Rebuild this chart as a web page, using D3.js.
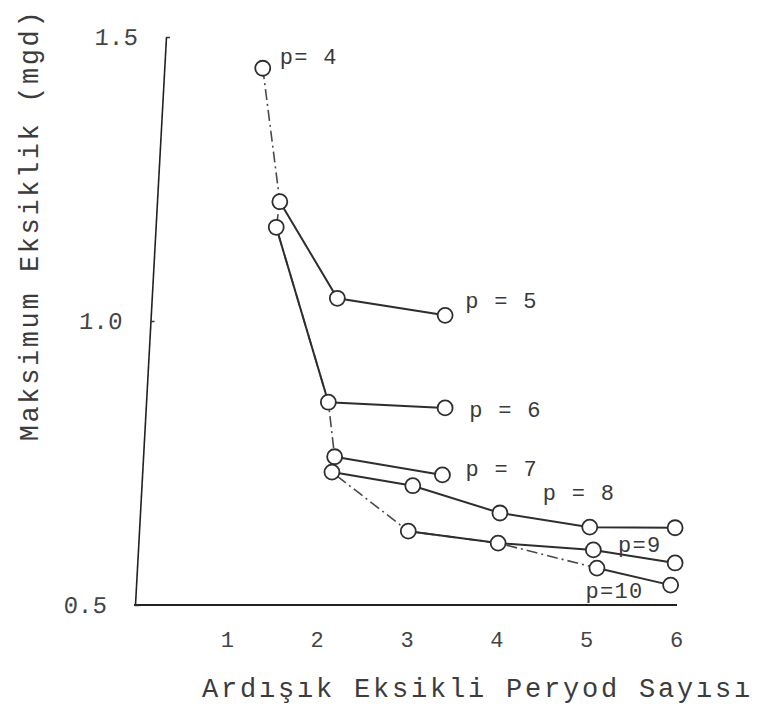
<!DOCTYPE html>
<html>
<head>
<meta charset="utf-8">
<script src="https://cdn.jsdelivr.net/npm/d3@7"></script>
<style>
  html, body { margin: 0; padding: 0; background: #ffffff; }
  svg { display: block; }
  text { font-family: "Liberation Mono", "DejaVu Sans Mono", monospace; }
</style>
</head>
<body>
<svg id="chart" width="763" height="715"></svg>
<script>
// ---- data ----
const xTicks = [1, 2, 3, 4, 5, 6];
const yTicks = [0.5, 1.0, 1.5];
const xTitle = "Ardışık Eksikli Peryod Sayısı";
const yTitle = "Maksimum Eksiklik (mgd)";

const seriesNames = ["p= 4", "p = 5", "p = 6", "p = 7", "p = 8", "p=9", "p=10"];
const p4x = [1.40];               const p4y = [1.445];
const p5x = [1.59, 2.23, 3.43];   const p5y = [1.21, 1.04, 1.01];
const p6x = [1.55, 2.13, 3.43];   const p6y = [1.165, 0.857, 0.847];
const p7x = [2.20, 3.40];         const p7y = [0.761, 0.729];
const p8x = [2.17, 3.07, 4.04, 5.04, 5.99]; const p8y = [0.734, 0.710, 0.662, 0.637, 0.636];
const p9x = [3.02, 4.02, 5.08, 5.99];       const p9y = [0.630, 0.609, 0.597, 0.574];
const p10x = [5.12, 5.94];                  const p10y = [0.565, 0.535];

// dash-dot envelope through the first points of the curves
const envX = [1.40, 1.59, 1.55, 2.13, 2.20, 2.17, 3.02, 4.02, 5.12];
const envY = [1.445, 1.21, 1.165, 0.857, 0.761, 0.734, 0.630, 0.609, 0.565];

// ---- layout ----
const X0 = 137, X1 = 676, Y0 = 605, Y1 = 37;
const labelLayout = [ // anchor point index, offsets in px
  {i: 0, dx: 17, dy: -4},
  {i: 2, dx: 20, dy: -7},
  {i: 2, dx: 24, dy: 9},
  {i: 1, dx: 23, dy: 1},
  {i: 3, dx: -47, dy: -27},
  {i: 3, dx: -57, dy: -11},
  {i: 1, dx: -85, dy: 13}
];

const svg = d3.select("#chart");
const x = d3.scaleLinear().domain([0, 6]).range([X0, X1]);
const y = d3.scaleLinear().domain([0.5, 1.5]).range([Y0, Y1]);

const ink = "#2e2e2e";

// x axis
const gx = svg.append("g").attr("transform", `translate(0,${Y0})`)
  .call(d3.axisBottom(x).tickValues(xTicks).tickFormat(d3.format("d")).tickSize(0).tickPadding(26));
gx.select(".domain").attr("stroke", "#222").attr("stroke-width", 2.2).attr("d", `M${X0 - 3},0H${X1 + 1}`);
gx.selectAll(".tick text").attr("font-size", 22).attr("fill", "#444")
  .attr("font-family", "Liberation Mono, monospace");

// y axis (slightly leaning, as drawn by hand)
const yRel = d3.scaleLinear().domain([0.5, 1.5]).range([0, Y1 - Y0]);
const lean = -Math.atan(31 / (Y0 - Y1)) * 180 / Math.PI;
const gy = svg.append("g").attr("transform", `translate(${X0 - 2},${Y0}) skewX(${lean})`)
  .call(d3.axisLeft(yRel).tickValues(yTicks).tickFormat(d3.format(".1f")).tickSize(-4).tickPadding(28).tickSizeOuter(0));
gy.select(".domain").attr("stroke", "#222").attr("stroke-width", 1.6);
gy.selectAll(".tick line").attr("stroke", "#333").attr("stroke-width", 1.4);
gy.selectAll(".tick text").attr("font-size", 24).attr("fill", "#444")
  .attr("font-family", "Liberation Mono, monospace");

// titles
svg.append("text").attr("x", 202).attr("y", 697)
  .attr("font-size", 27).attr("letter-spacing", 2.8).attr("fill", "#3c3c3c")
  .text(xTitle);
svg.append("text").attr("transform", "translate(38,225) rotate(-90)")
  .attr("text-anchor", "middle")
  .attr("font-size", 27).attr("letter-spacing", 2.6).attr("fill", "#3c3c3c")
  .text(yTitle);

// envelope
const pts = (xs, ys) => xs.map((v, k) => [v, ys[k]]);
const line = d3.line().x(d => x(d[0])).y(d => y(d[1]));
svg.append("path").datum(pts(envX, envY)).attr("d", line)
  .attr("fill", "none").attr("stroke", "#4a4a4a").attr("stroke-width", 1.6)
  .attr("stroke-dasharray", "11,4,2,4");

// series
const series = [pts(p4x, p4y), pts(p5x, p5y), pts(p6x, p6y), pts(p7x, p7y),
                pts(p8x, p8y), pts(p9x, p9y), pts(p10x, p10y)];
series.forEach(s => {
  if (s.length > 1) {
    svg.append("path").datum(s).attr("d", line)
      .attr("fill", "none").attr("stroke", ink).attr("stroke-width", 2);
  }
});
series.forEach(s => {
  svg.append("g").selectAll("circle").data(s).join("circle")
    .attr("cx", d => x(d[0])).attr("cy", d => y(d[1])).attr("r", 7.5)
    .attr("fill", "#ffffff").attr("stroke", ink).attr("stroke-width", 1.8);
});

// curve labels
series.forEach((s, k) => {
  const L = labelLayout[k];
  const a = s[L.i];
  svg.append("text")
    .attr("x", x(a[0]) + L.dx).attr("y", y(a[1]) + L.dy)
    .attr("font-size", 22).attr("letter-spacing", 1.3).attr("fill", "#3a3a3a")
    .text(seriesNames[k]);
});
</script>
</body>
</html>
